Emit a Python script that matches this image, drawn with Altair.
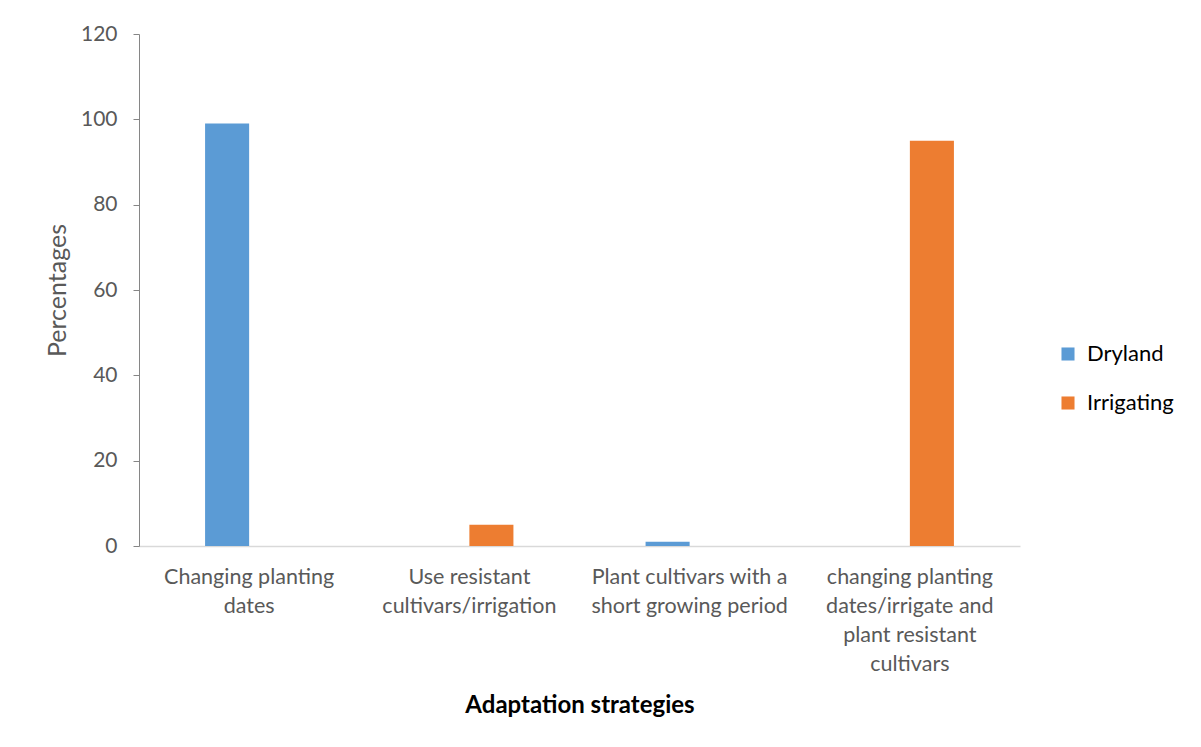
import altair as alt
import pandas as pd

categories = [
    "Changing planting\ndates",
    "Use resistant\ncultivars/irrigation",
    "Plant cultivars with a\nshort growing period",
    "changing planting\ndates/irrigate and\nplant resistant\ncultivars",
]
series = ["Dryland", "Irrigating"]
dryland = [99, 0, 1, 0]
irrigating = [0, 5, 0, 95]
colors = ["#5B9BD5", "#ED7D31"]

rows = []
for c, d, i in zip(categories, dryland, irrigating):
    rows.append({"cat": c, "series": "Dryland", "value": d})
    rows.append({"cat": c, "series": "Irrigating", "value": i})
df = pd.DataFrame(rows)

FONT = "Lato"

chart = alt.Chart(df).mark_bar().encode(
    x=alt.X("cat:N", sort=categories,
            scale=alt.Scale(paddingInner=0, paddingOuter=0),
            axis=alt.Axis(title="Adaptation strategies",
                          labelExpr="split(datum.label, '\\n')",
                          labelAngle=0, labelFontSize=21.5, labelColor="#595959",
                          labelFont=FONT, labelPadding=20, labelLineHeight=29,
                          ticks=False, domainColor="#D9D9D9", domainWidth=1.5,
                          titleFont=FONT, titleFontSize=24, titleFontWeight="bold",
                          titleColor="#000000", titlePadding=19, labelLimit=300)),
    xOffset=alt.XOffset("series:N",
                        scale=alt.Scale(domain=["_a", "Dryland", "Irrigating", "_b"],
                                        paddingInner=0, paddingOuter=0.5)),
    y=alt.Y("value:Q", scale=alt.Scale(domain=[0, 120]),
            axis=alt.Axis(title="Percentages", values=[0, 20, 40, 60, 80, 100, 120],
                          grid=False, labelFontSize=21, labelColor="#595959",
                          labelFont=FONT, labelPadding=16, tickSize=6,
                          tickColor="#868686", domainColor="#868686",
                          titleFont=FONT, titleFontSize=25, titleFontWeight="normal",
                          titleColor="#595959", titlePadding=10)),
    color=alt.Color("series:N", sort=series,
                    scale=alt.Scale(domain=series, range=colors),
                    legend=alt.Legend(title=None, orient="none", legendX=918, legendY=309,
                                      symbolType="square", symbolSize=170,
                                      symbolStrokeWidth=0, labelFont=FONT,
                                      labelFontSize=22, labelColor="#000000",
                                      rowPadding=27, labelOffset=8)),
).properties(
    width=881, height=512,
    background="white",
    autosize=alt.AutoSizeParams(type="none"),
    padding={"left": 131, "top": 26, "right": 173, "bottom": 193},
).configure_view(stroke=None)

chart.save("out.html", embed_options={"renderer": "svg", "actions": False})
